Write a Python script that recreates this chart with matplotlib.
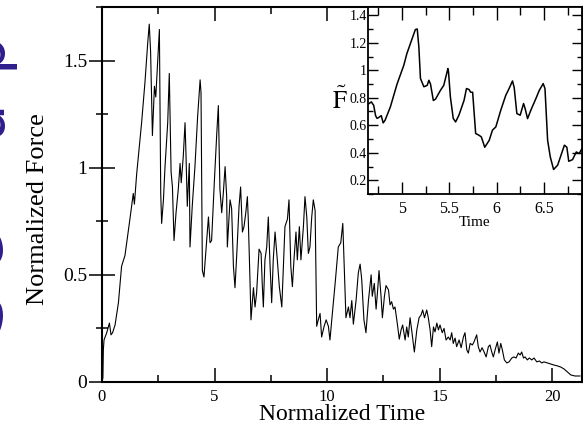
import matplotlib
matplotlib.use('Agg')
import matplotlib.pyplot as plt
from matplotlib.ticker import MultipleLocator, FormatStrFormatter

# main trace: normalized force vs normalized time
main_time = [0.0, 0.04, 0.06, 0.09, 0.21, 0.33, 0.40, 0.47, 0.58, 0.73, 0.87, 1.02, 1.24, 1.39, 1.44,
             1.54, 1.76, 1.91, 2.03, 2.10, 2.16, 2.24, 2.33, 2.39, 2.47, 2.55, 2.61, 2.65, 2.73, 2.80,
             2.92, 2.99, 3.07, 3.13, 3.20, 3.29, 3.39, 3.47, 3.52, 3.61, 3.69, 3.73, 3.79, 3.88, 3.91,
             4.01, 4.13, 4.25, 4.36, 4.40, 4.46, 4.53, 4.65, 4.73, 4.80, 4.87, 4.99, 5.10, 5.17, 5.24,
             5.32, 5.39, 5.47, 5.54, 5.57, 5.69, 5.76, 5.84, 5.91, 5.99, 6.09, 6.16, 6.24, 6.31, 6.39,
             6.46, 6.50, 6.58, 6.62, 6.73, 6.80, 6.87, 6.98, 7.07, 7.12, 7.17, 7.24, 7.32, 7.39, 7.47,
             7.54, 7.61, 7.69, 7.79, 7.88, 7.99, 8.06, 8.13, 8.24, 8.31, 8.39, 8.46, 8.53, 8.62, 8.68,
             8.77, 8.84, 8.95, 9.02, 9.10, 9.17, 9.24, 9.32, 9.39, 9.47, 9.54, 9.61, 9.69, 9.76, 9.87,
             9.96, 10.06, 10.13, 10.21, 10.36, 10.50, 10.61, 10.70, 10.76, 10.84, 10.95, 11.02, 11.10,
             11.17, 11.29, 11.39, 11.47, 11.54, 11.64, 11.73, 11.84, 11.96, 12.01, 12.10, 12.18, 12.25,
             12.31, 12.40, 12.46, 12.55, 12.62, 12.73, 12.80, 12.87, 12.95, 13.02, 13.12, 13.21, 13.29,
             13.36, 13.47, 13.54, 13.61, 13.69, 13.76, 13.88, 13.99, 14.09, 14.18, 14.25, 14.33, 14.43,
             14.50, 14.58, 14.65, 14.73, 14.80, 14.88, 14.95, 15.02, 15.12, 15.20, 15.29, 15.39, 15.47,
             15.54, 15.61, 15.69, 15.76, 15.87, 15.96, 16.06, 16.13, 16.21, 16.28, 16.36, 16.46, 16.53,
             16.65, 16.72, 16.80, 16.89, 16.98, 17.07, 17.17, 17.24, 17.32, 17.39, 17.47, 17.57, 17.64,
             17.72, 17.79, 17.88, 17.99, 18.09, 18.21, 18.31, 18.40, 18.50, 18.58, 18.65, 18.73, 18.80,
             18.90, 18.99, 19.10, 19.20, 19.32, 19.44, 19.54, 19.64, 19.79, 19.94, 20.09, 20.24, 20.38,
             20.53, 20.68, 20.83, 21.02, 21.24]
main_force = [0.0, 0.02, 0.15, 0.196, 0.23, 0.275, 0.22, 0.23, 0.266, 0.37, 0.54, 0.59, 0.76, 0.88, 0.83,
              0.97, 1.21, 1.40, 1.58, 1.67, 1.54, 1.15, 1.38, 1.33, 1.49, 1.645, 0.88, 0.74, 0.85, 1.005,
              1.21, 1.44, 0.98, 0.91, 0.66, 0.79, 0.90, 1.02, 0.93, 1.05, 1.21, 1.07, 0.82, 1.02, 0.63,
              0.82, 1.005, 1.24, 1.41, 1.35, 0.52, 0.49, 0.66, 0.77, 0.65, 0.66, 0.93, 1.16, 1.29, 0.90,
              0.79, 0.88, 1.005, 0.865, 0.63, 0.85, 0.81, 0.54, 0.44, 0.60, 0.82, 0.91, 0.70, 0.725, 0.79,
              0.865, 0.76, 0.46, 0.29, 0.44, 0.35, 0.415, 0.62, 0.60, 0.46, 0.35, 0.57, 0.63, 0.77, 0.54,
              0.37, 0.57, 0.70, 0.57, 0.445, 0.35, 0.54, 0.725, 0.76, 0.85, 0.54, 0.445, 0.57, 0.70, 0.57,
              0.725, 0.57, 0.725, 0.865, 0.77, 0.60, 0.63, 0.77, 0.85, 0.80, 0.26, 0.29, 0.32, 0.21, 0.26,
              0.29, 0.26, 0.196, 0.29, 0.46, 0.63, 0.65, 0.74, 0.55, 0.30, 0.35, 0.30, 0.38,
              0.27, 0.38, 0.51, 0.55, 0.48, 0.29, 0.23, 0.38, 0.50, 0.40, 0.46, 0.34, 0.43,
              0.52, 0.40, 0.30, 0.40, 0.45, 0.43, 0.36, 0.375, 0.34, 0.35, 0.275, 0.20, 0.243,
              0.266, 0.196, 0.257, 0.21, 0.30, 0.243, 0.14, 0.243, 0.30, 0.313, 0.336, 0.30, 0.336,
              0.30, 0.243, 0.165, 0.257, 0.234, 0.275, 0.243, 0.266, 0.23, 0.25, 0.196, 0.21, 0.196,
              0.23, 0.18, 0.205, 0.165, 0.196, 0.16, 0.21, 0.23, 0.15, 0.135, 0.18, 0.173, 0.187,
              0.22, 0.165, 0.14, 0.16, 0.14, 0.117, 0.165, 0.173, 0.14, 0.117, 0.15, 0.187, 0.135,
              0.18, 0.15, 0.103, 0.089, 0.094, 0.112, 0.117, 0.112, 0.135, 0.126, 0.14, 0.112, 0.117,
              0.103, 0.112, 0.103, 0.112, 0.094, 0.098, 0.089, 0.094, 0.089, 0.084, 0.079, 0.075, 0.07,
              0.061, 0.047, 0.033, 0.028, 0.028]

# inset trace: F-tilde vs time
inset_time = [4.65, 4.675, 4.70, 4.72, 4.735, 4.75, 4.78, 4.80, 4.82, 4.876, 4.947, 5.018, 5.05, 5.14,
              5.16, 5.177, 5.194, 5.23, 5.265, 5.283, 5.30, 5.33, 5.353, 5.406, 5.44, 5.484, 5.49, 5.51,
              5.54, 5.565, 5.60, 5.654, 5.68, 5.707, 5.724, 5.745, 5.777, 5.813, 5.837, 5.873, 5.92,
              5.954, 5.99, 6.042, 6.095, 6.13, 6.166, 6.184, 6.212, 6.247, 6.283, 6.30, 6.325, 6.36,
              6.413, 6.449, 6.49, 6.509, 6.537, 6.565, 6.60, 6.643, 6.714, 6.74, 6.76, 6.80, 6.84,
              6.87, 6.908]
inset_force = [0.757, 0.77, 0.745, 0.67, 0.65, 0.655, 0.67, 0.617, 0.636, 0.733, 0.90, 1.036, 1.12, 1.296,
               1.30, 1.17, 0.94, 0.88, 0.89, 0.927, 0.90, 0.78, 0.79, 0.855, 0.89, 1.012, 0.99, 0.806,
               0.65, 0.624, 0.673, 0.78, 0.867, 0.86, 0.84, 0.84, 0.54, 0.527, 0.515, 0.44, 0.49,
               0.564, 0.588, 0.709, 0.818, 0.867, 0.922, 0.874, 0.685, 0.673, 0.758, 0.72, 0.648, 0.71,
               0.794, 0.854, 0.903, 0.867, 0.49, 0.37, 0.278, 0.31, 0.455, 0.44, 0.338, 0.35, 0.406,
               0.394, 0.44]

banner_letters = ['S', 'e', 't', 'u', 'p']

plt.rcParams['font.family'] = 'Liberation Serif'
plt.rcParams['mathtext.fontset'] = 'stix'

fig = plt.figure(figsize=(5.83, 4.30), dpi=100)

# clipped banner text at the left edge (only the glyph bottoms show)
banner_y = [310, 248, 187, 118, 50]
for ch, py in zip(banner_letters, banner_y):
    fig.text(-0.5 / 583, 1 - py / 430, ch, rotation=90, rotation_mode='anchor', ha='center',
             va='baseline', fontsize=44, color='#2d1e8c', family='DejaVu Sans')

ax = fig.add_axes([102 / 583, 48 / 430, 480 / 583, 375 / 430])
ax.plot(main_time, main_force, color='black', lw=0.8)
ax.set_xlim(0, 21.33)
ax.set_ylim(0, 1.75)
ax.xaxis.set_major_locator(MultipleLocator(5))
ax.xaxis.set_minor_locator(MultipleLocator(2.5))
ax.yaxis.set_major_locator(MultipleLocator(0.5))
ax.yaxis.set_minor_locator(MultipleLocator(0.25))
ax.yaxis.set_major_formatter(FormatStrFormatter('%g'))
ax.tick_params(axis='y', which='major', direction='inout', length=19, width=1.1, labelsize=14, pad=1)
ax.tick_params(axis='y', which='minor', direction='inout', length=8, width=1.1)
ax.tick_params(axis='x', which='major', direction='in', length=10, width=1.1, labelsize=12, pad=5, top=True)
ax.tick_params(axis='x', which='minor', direction='in', length=5, width=1.1, top=True)
for s in ax.spines.values():
    s.set_linewidth(1.5)
ax.set_xlabel('Normalized Time', fontsize=17, va='center')
ax.xaxis.set_label_coords(0.5, -0.088)
ax.set_ylabel('Normalized Force', fontsize=19, va='center')
ax.yaxis.set_label_coords(-0.133, 0.461)

# inset
axi = fig.add_axes([368 / 583, 1 - 194 / 430, 214 / 583, 187 / 430])
axi.plot(inset_time, inset_force, color='black', lw=1.1)
axi.set_xlim(4.64, 6.9)
axi.set_ylim(0.1, 1.46)
axi.xaxis.set_major_locator(MultipleLocator(0.5))
axi.xaxis.set_minor_locator(MultipleLocator(0.25))
axi.yaxis.set_major_locator(MultipleLocator(0.2))
axi.yaxis.set_minor_locator(MultipleLocator(0.1))
axi.xaxis.set_major_formatter(FormatStrFormatter('%g'))
axi.yaxis.set_major_formatter(FormatStrFormatter('%g'))
axi.tick_params(axis='x', which='major', direction='in', length=9, width=1, labelsize=11.5, pad=5, top=True)
axi.tick_params(axis='x', which='minor', direction='in', length=6, width=1, top=True)
axi.tick_params(axis='y', which='major', direction='in', length=7, width=1, labelsize=10, pad=1, right=True)
axi.tick_params(axis='y', which='minor', direction='in', length=3.5, width=1, right=True)
for s in axi.spines.values():
    s.set_linewidth(1.3)
axi.set_xlabel('Time', fontsize=11, va='center')
axi.xaxis.set_label_coords(0.5, -0.15)
axi.set_ylabel(r'$\tilde{\mathrm{F}}$', fontsize=18, rotation=0, ha='center', va='center')
axi.yaxis.set_label_coords(-0.13, 0.5)

fig.savefig('out.png', dpi=100)
